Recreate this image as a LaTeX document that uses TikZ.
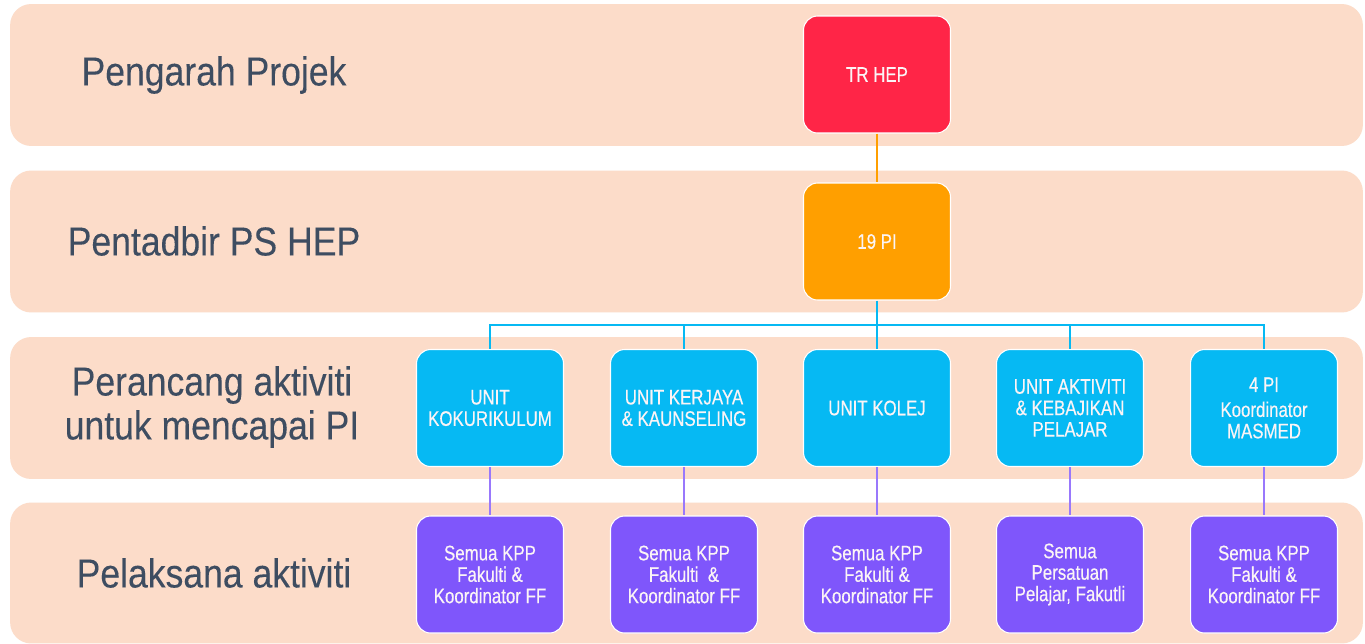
\documentclass[tikz,border=0pt]{standalone}
\usepackage{fontspec}
\newfontfamily\labfont{Liberation Sans}[FakeStretch=0.88,FakeBold=0.15]
\newfontfamily\boxfont{Liberation Sans}[FakeStretch=0.8,FakeBold=0.4]
\definecolor{bandc}{HTML}{FCDCC9}
\definecolor{labc}{HTML}{3E4D61}
\definecolor{redc}{HTML}{FF2547}
\definecolor{orac}{HTML}{FF9F00}
\definecolor{bluec}{HTML}{06B9F3}
\definecolor{purc}{HTML}{7F56FB}
\definecolor{boxtxt}{HTML}{FBF4F6}
\tikzset{
  band/.style={fill=bandc, draw=none, rounded corners=12pt, minimum width=27.06cm, minimum height=2.84cm, inner sep=0pt},
  bandlabel/.style={font=\labfont\fontsize{23}{25}\selectfont, text=labc, align=center, inner sep=0pt},
  unitbox/.style={rounded corners=8pt, minimum width=2.94cm, minimum height=2.34cm, align=center, text=boxtxt, font=\boxfont\fontsize{12}{12.2}\selectfont, draw=white, line width=0.6pt, inner sep=2pt},
  redbox/.style={unitbox, fill=redc},
  orabox/.style={unitbox, fill=orac},
  bluebox/.style={unitbox, fill=bluec},
  purbox/.style={unitbox, fill=purc},
  oraline/.style={draw=orac, line width=0.9pt},
  blueline/.style={draw=bluec, line width=0.9pt},
  purline/.style={draw=purc!80!white, line width=0.9pt}
}
\begin{document}
\begin{tikzpicture}[x=0.02cm, y=-0.02cm]
\useasboundingbox[fill=white] (0,0) rectangle (1365,643);
% bands
\node[band] (b1) at (686.5,75) {};
\node[band] (b2) at (686.5,241.5) {};
\node[band] (b3) at (686.5,408) {};
\node[band, minimum height=2.82cm] (b4) at (686.5,573) {};
% band labels
\node[bandlabel] (l1) at (214,75) {Pengarah Projek};
\node[bandlabel] (l2) at (214,241) {Pentadbir PS HEP};
\node[bandlabel] (l3) at (212,407) {Perancang aktiviti\\untuk mencapai PI};
\node[bandlabel] (l4) at (214,573) {Pelaksana aktiviti};
% top boxes
\node[redbox] (tr) at (877,74.5) {TR HEP};
\node[orabox] (pi) at (877,241.5) {19 PI};
% unit boxes
\node[bluebox] (u1) at (490,408) {UNIT\\KOKURIKULUM};
\node[bluebox] (u2) at (684,408) {UNIT KERJAYA\\\& KAUNSELING};
\node[bluebox] (u3) at (877,408) {UNIT KOLEJ};
\node[bluebox] (u4) at (1070,408) {UNIT AKTIVITI\\\& KEBAJIKAN\\PELAJAR};
\node[bluebox] (u5) at (1264,408) {4 PI\\[2pt]Koordinator\\MASMED};
% implementer boxes
\node[purbox] (p1) at (490,574.5) {Semua KPP\\Fakulti \&\\Koordinator FF};
\node[purbox] (p2) at (684,574.5) {Semua KPP\\Fakulti~~\&\\Koordinator FF};
\node[purbox] (p3) at (877,574.5) {Semua KPP\\Fakulti \&\\Koordinator FF};
\node[purbox] (p4) at (1070,574.5) {Semua\\Persatuan\\Pelajar, Fakutli};
\node[purbox] (p5) at (1264,574.5) {Semua KPP\\Fakulti \&\\Koordinator FF};
% connectors
\coordinate (bus) at (877,325);
\draw[oraline] (tr.south) -- (pi.north);
\draw[blueline] (pi.south) -- (bus);
\draw[blueline] (u1.north) |- (bus) -| (u5.north);
\foreach \u in {u2,u3,u4}{\draw[blueline] (\u.north) -- (\u.north |- bus);}
\foreach \i in {1,...,5}{\draw[purline] (u\i.south) -- (p\i.north);}
\end{tikzpicture}
\end{document}
